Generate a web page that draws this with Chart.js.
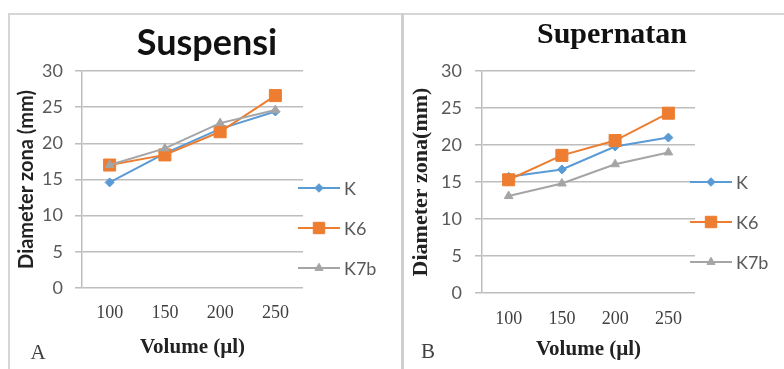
<!DOCTYPE html>
<html><head><meta charset="utf-8">
<script src="https://cdn.jsdelivr.net/npm/chart.js@4/dist/chart.umd.min.js"></script>
<style>
html,body{margin:0;padding:0;background:#fff;}
body{width:784px;height:369px;position:relative;overflow:hidden;}
#frame{position:absolute;left:8px;top:13px;width:800px;height:380px;border-left:2px solid #d6d6d6;border-top:2px solid #d6d6d6;}
#sep{position:absolute;left:401px;top:13px;width:3px;height:360px;background:#cfcfcf;}
#cA{position:absolute;left:10px;top:15px;}
#cB{position:absolute;left:404px;top:15px;}
</style></head>
<body>
<div id="frame"></div>
<div id="sep"></div>
<canvas id="cA" width="391" height="354"></canvas>
<canvas id="cB" width="380" height="354"></canvas>
<script>
// ---- data ----
const categories = ['100', '150', '200', '250'];
const seriesNames = ['K', 'K6', 'K7b'];
const suspK   = [14.6, 18.6, 22.0, 24.4];
const suspK6  = [17.0, 18.4, 21.6, 26.6];
const suspK7b = [17.0, 19.3, 22.8, 24.6];
const supK    = [15.7, 16.7, 19.8, 21.0];
const supK6   = [15.3, 18.6, 20.6, 24.3];
const supK7b  = [13.1, 14.8, 17.4, 19.0];
const yMin = 0, yMax = 30, yStep = 5;

const colors = ['#5B9BD5', '#ED7D31', '#A5A5A5'];
const styles = ['rectRot', 'rect', 'triangle'];
const radii = [4.5, 8.5, 5];

function makeDatasets(vals) {
  return vals.map((v, i) => ({
    label: seriesNames[i],
    data: v,
    borderColor: colors[i],
    backgroundColor: colors[i],
    pointBackgroundColor: colors[i],
    pointBorderColor: colors[i],
    pointStyle: styles[i],
    pointRadius: radii[i],
    pointBorderWidth: 1,
    borderWidth: 2,
    tension: 0,
    order: 3 - i
  }));
}

const overlay = {
  id: 'overlay',
  afterDraw(chart, args, o) {
    const ctx = chart.ctx;
    ctx.save();
    ctx.textAlign = 'center';
    ctx.textBaseline = 'middle';
    ctx.fillStyle = o.titleColor;
    ctx.font = o.titleFont;
    ctx.fillText(o.title, o.titleX, o.titleY);
    ctx.fillStyle = '#404040';
    ctx.font = o.letterFont;
    ctx.fillText(o.letter, o.letterX, o.letterY);
    chart.data.datasets.forEach((ds, i) => {
      const y = o.legY + i * o.legDy;
      ctx.strokeStyle = ds.borderColor;
      ctx.lineWidth = 2;
      ctx.beginPath();
      ctx.moveTo(o.legX0, y);
      ctx.lineTo(o.legX1, y);
      ctx.stroke();
      ctx.fillStyle = ds.backgroundColor;
      ctx.lineWidth = 1;
      Chart.helpers.drawPoint(ctx, {pointStyle: ds.pointStyle, radius: ds.pointRadius * 0.95, borderWidth: 1, rotation: 0}, (o.legX0 + o.legX1) / 2, y);
      ctx.fillStyle = '#595959';
      ctx.font = o.legFont;
      ctx.textAlign = 'left';
      ctx.fillText(ds.label, o.legX1 + 4, y + 1);
    });
    ctx.restore();
  }
};

function makeChart(id, vals, cfg) {
  return new Chart(document.getElementById(id), {
    type: 'line',
    data: { labels: categories, datasets: makeDatasets(vals) },
    plugins: [overlay],
    options: {
      responsive: false,
      animation: false,
      events: [],
      layout: { padding: { top: 56, right: cfg.padRight, bottom: 0, left: 0 } },
      plugins: {
        legend: { display: false },
        tooltip: { enabled: false },
        title: { display: false },
        overlay: cfg.overlay
      },
      scales: {
        x: {
          offset: true,
          grid: { display: false, drawTicks: false },
          border: { display: false },
          ticks: { color: '#404040', font: { family: 'Liberation Serif', size: 18 }, padding: cfg.xPad, maxRotation: 0 },
          title: { display: true, text: 'Volume (µl)', color: '#222', font: { family: 'Liberation Serif', size: 21, weight: 'bold' }, padding: { bottom: cfg.xTitlePad, top: 0 } },
          afterFit: s => { s.height = cfg.xHeight; }
        },
        y: {
          min: yMin, max: yMax,
          grid: { color: '#bdbdbd', lineWidth: 1.5, tickLength: 7, drawTicks: true },
          border: { display: true, color: '#bdbdbd', width: 1.5 },
          ticks: { stepSize: yStep, color: '#595959', font: { family: 'Lato', size: 18 }, padding: cfg.yPad },
          title: { display: true, text: cfg.yTitle, color: '#222', font: cfg.yTitleFont, padding: { top: cfg.yTitlePad, bottom: 0 } },
          afterFit: s => { s.width = cfg.yWidth; }
        }
      }
    }
  });
}

makeChart('cA', [suspK, suspK6, suspK7b], {
  padRight: 98, xHeight: 81, yWidth: 72, xPad: 14, xTitlePad: 9, yPad: 12, yTitlePad: 5,
  yTitle: 'Diameter zona (mm)',
  yTitleFont: { family: 'Lato', size: 20, weight: 'bold' },
  overlay: {
    title: 'Suspensi', titleFont: 'bold 36px Lato', titleColor: '#111', titleX: 197, titleY: 28,
    letter: 'A', letterFont: '21px Liberation Serif', letterX: 28, letterY: 338,
    legY: 173, legDy: 40, legX0: 288, legX1: 330, legFont: '18px Lato'
  }
});

makeChart('cB', [supK, supK6, supK7b], {
  padRight: 89, xHeight: 76, yWidth: 78, xPad: 15, xTitlePad: 7, yPad: 13, yTitlePad: 4,
  yTitle: 'Diameter zona(mm)',
  yTitleFont: { family: 'Liberation Serif', size: 22, weight: 'bold' },
  overlay: {
    title: 'Supernatan', titleFont: 'bold 30px Liberation Serif', titleColor: '#111', titleX: 208, titleY: 20,
    letter: 'B', letterFont: '21px Liberation Serif', letterX: 24, letterY: 337,
    legY: 167, legDy: 40, legX0: 286, legX1: 328, legFont: '18px Lato'
  }
});
</script>
</body></html>
